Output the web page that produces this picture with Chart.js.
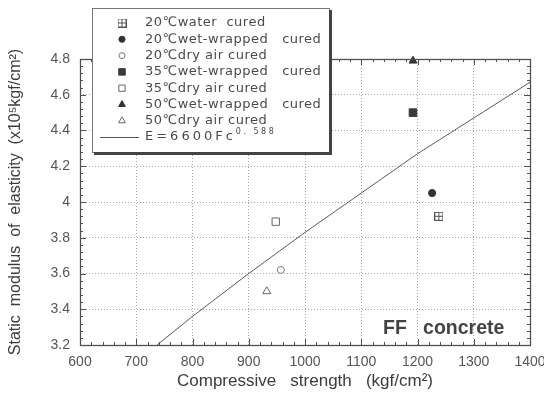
<!DOCTYPE html>
<html><head><meta charset="utf-8">
<style>html,body{margin:0;padding:0;background:#fff;}#wrap{width:544px;height:401px;}</style>
<script src="https://cdn.jsdelivr.net/npm/chart.js@4.4.1/dist/chart.umd.min.js"></script>
</head><body><div id="wrap"><canvas id="c" width="544" height="401"></canvas></div>
<script>
// ---- data ----
const xTicks = [600, 700, 800, 900, 1000, 1100, 1200, 1300, 1400];
const yTicks = [3.2, 3.4, 3.6, 3.8, 4.0, 4.2, 4.4, 4.6, 4.8];
const yTickLabels = ['3.2', '3.4', '3.6', '3.8', '4', '4.2', '4.4', '4.6', '4.8'];
const seriesLabels = ['20℃water  cured', '20℃wet-wrapped   cured', '20℃dry air cured',
  '35℃wet-wrapped   cured', '35℃dry air cured', '50℃wet-wrapped   cured', '50℃dry air cured'];
const fitLabel = 'E=6600Fc';
const fitExponent = '0. 588';
const water20X = [1238], water20Y = [3.92];
const wet20X = [1226], wet20Y = [4.05];
const dry20X = [957], dry20Y = [3.62];
const wet35X = [1192], wet35Y = [4.50];
const dry35X = [948], dry35Y = [3.89];
const wet50X = [1192], wet50Y = [4.79];
const dry50X = [932], dry50Y = [3.50];
const fitX = [737, 800, 900, 1000, 1100, 1200, 1300, 1400];
const fitY = [3.20, 3.36, 3.60, 3.83, 4.05, 4.27, 4.47, 4.67];
const xTitle = 'Compressive   strength   (kgf/cm²)';
const yTitle = 'Static  modulus  of  elasticity  (x10⁵kgf/cm²)';
const noteText = 'FF   concrete';

const zip = (xs, ys) => xs.map((x, i) => ({x, y: ys[i]}));

function makePlusSquare() {
  const c = document.createElement('canvas'); c.width = 9; c.height = 9;
  const g = c.getContext('2d'); g.strokeStyle = '#555'; g.lineWidth = 1;
  g.strokeRect(0.5, 0.5, 8, 8);
  g.beginPath(); g.moveTo(4.5, 0.5); g.lineTo(4.5, 8.5); g.moveTo(0.5, 4.5); g.lineTo(8.5, 4.5); g.stroke();
  return c;
}
const plusSq = makePlusSquare();

const pointStyles = [
  {pointStyle: plusSq, radius: 4.5, backgroundColor: '#fff', borderColor: '#555', borderWidth: 1},
  {pointStyle: 'circle', radius: 3.6, backgroundColor: '#333', borderColor: '#333', borderWidth: 1},
  {pointStyle: 'circle', radius: 3.5, backgroundColor: '#fff', borderColor: '#777', borderWidth: 1},
  {pointStyle: 'rect', radius: 5.4, backgroundColor: '#3a3a3a', borderColor: '#3a3a3a', borderWidth: 1},
  {pointStyle: 'rect', radius: 5.2, backgroundColor: '#fff', borderColor: '#666', borderWidth: 1},
  {pointStyle: 'triangle', radius: 4.6, backgroundColor: '#333', borderColor: '#333', borderWidth: 1},
  {pointStyle: 'triangle', radius: 4.6, backgroundColor: '#fff', borderColor: '#666', borderWidth: 1}
];
const seriesData = [zip(water20X, water20Y), zip(wet20X, wet20Y), zip(dry20X, dry20Y),
  zip(wet35X, wet35Y), zip(dry35X, dry35Y), zip(wet50X, wet50Y), zip(dry50X, dry50Y)];

const datasets = seriesData.map((d, i) => ({
  label: seriesLabels[i], data: d, showLine: false, clip: false,
  pointStyle: pointStyles[i].pointStyle, pointRadius: pointStyles[i].radius,
  pointBackgroundColor: pointStyles[i].backgroundColor, pointBorderColor: pointStyles[i].borderColor,
  pointBorderWidth: pointStyles[i].borderWidth
}));
datasets.push({label: fitLabel, data: zip(fitX, fitY), showLine: true, pointRadius: 0,
  borderColor: '#5a5a5a', borderWidth: 1, tension: 0, fill: false});

const framePlugin = {
  id: 'frame',
  afterDraw(chart) {
    const ctx = chart.ctx, a = chart.chartArea, xs = chart.scales.x, ys = chart.scales.y;
    ctx.save();
    ctx.strokeStyle = '#505050'; ctx.lineWidth = 1;
    ctx.beginPath();
    for (let i = 0; i <= 40; i++) {
      const v = xTicks[0] + i * 20;
      const px = Math.round(xs.getPixelForValue(v)) + 0.5;
      const L = (i % 5 === 0) ? 6 : 3;
      ctx.moveTo(px, a.bottom); ctx.lineTo(px, a.bottom - L);
      ctx.moveTo(px, a.top); ctx.lineTo(px, a.top + L);
    }
    for (let i = 0; i <= 40; i++) {
      const v = yTicks[0] + i * 0.04;
      const py = Math.round(ys.getPixelForValue(v)) + 0.5;
      const L = (i % 5 === 0) ? 6 : 3;
      ctx.moveTo(a.left, py); ctx.lineTo(a.left + L, py);
      ctx.moveTo(a.right, py); ctx.lineTo(a.right - L, py);
    }
    ctx.stroke();
    ctx.lineWidth = 1.3;
    ctx.strokeRect(Math.round(a.left) + 0.5, Math.round(a.top) + 0.5, Math.round(a.right - a.left), Math.round(a.bottom - a.top));
    // note text
    ctx.fillStyle = '#444';
    ctx.font = 'bold 19.5px "Liberation Sans", Arial, sans-serif';
    ctx.textAlign = 'left'; ctx.textBaseline = 'middle';
    ctx.fillText(noteText, 383, 329);
    // legend box
    const bx = 92, by = 8, bw = 237, bh = 144;
    ctx.fillStyle = '#fff';
    ctx.fillRect(bx, by, bw + 3, bh + 3);
    ctx.strokeStyle = '#777'; ctx.lineWidth = 1;
    ctx.strokeRect(bx + 0.5, by + 0.5, bw, bh);
    ctx.fillStyle = '#444';
    ctx.fillRect(bx + bw, by + 2, 3, bh + 1);
    ctx.fillRect(bx + 2, by + bh, bw + 1, 3);
    // legend entries
    const rowY0 = 23, rowDy = 16.3;
    ctx.font = '13px "DejaVu Sans", sans-serif';
    ctx.letterSpacing = '0.5px';
    for (let i = 0; i < seriesLabels.length; i++) {
      const y = rowY0 + i * rowDy;
      const ps = pointStyles[i];
      ctx.save();
      ctx.fillStyle = ps.backgroundColor; ctx.strokeStyle = ps.borderColor; ctx.lineWidth = ps.borderWidth;
      Chart.helpers.drawPoint(ctx, {pointStyle: ps.pointStyle, radius: ps.radius * 0.85, borderWidth: ps.borderWidth, rotation: 0}, 122, y);
      ctx.restore();
      ctx.fillStyle = '#4a4a4a';
      ctx.fillText(seriesLabels[i], 145, y);
    }
    const fy = rowY0 + 7 * rowDy;
    ctx.strokeStyle = '#555'; ctx.lineWidth = 1;
    ctx.beginPath(); ctx.moveTo(100, Math.round(fy) + 0.5); ctx.lineTo(139, Math.round(fy) + 0.5); ctx.stroke();
    ctx.fillStyle = '#4a4a4a';
    ctx.letterSpacing = '3px';
    ctx.fillText(fitLabel, 145, fy);
    const w = ctx.measureText(fitLabel).width;
    ctx.font = '8px "DejaVu Sans", sans-serif';
    ctx.letterSpacing = '2.5px';
    ctx.fillText(fitExponent, 145 + w, fy - 5);
    ctx.restore();
  }
};

new Chart(document.getElementById('c'), {
  type: 'scatter',
  data: {datasets},
  options: {
    responsive: false, animation: false, devicePixelRatio: 1,
    events: [],
    layout: {padding: {top: 59, right: 14, left: 0, bottom: 0}},
    plugins: {legend: {display: false}, tooltip: {enabled: false}},
    scales: {
      x: {
        type: 'linear', min: xTicks[0], max: xTicks[xTicks.length - 1],
        afterBuildTicks: s => { s.ticks = xTicks.map(v => ({value: v})); },
        afterFit: s => { s.height = 56; s.paddingLeft = 0; s.paddingRight = 0; },
        ticks: {color: '#555', padding: 9, font: {family: '"Liberation Sans", Arial, sans-serif', size: 14}, maxRotation: 0, autoSkip: false,
          callback: v => String(v)},
        grid: {drawTicks: false, lineWidth: 1,
          color: c => (c.tick && (c.tick.value === xTicks[0] || c.tick.value === xTicks[xTicks.length - 1])) ? 'rgba(0,0,0,0)' : '#a8a8a8'},
        border: {display: false, dash: [1, 2]},
        title: {display: true, text: xTitle, color: '#3c3c3c', padding: {top: 0, bottom: 9},
          font: {family: '"Liberation Sans", Arial, sans-serif', size: 17}}
      },
      y: {
        type: 'linear', min: yTicks[0], max: yTicks[yTicks.length - 1],
        afterBuildTicks: s => { s.ticks = yTicks.map(v => ({value: v})); },
        afterFit: s => { s.width = 80; s.paddingTop = 0; s.paddingBottom = 0; },
        ticks: {color: '#555', padding: 10, font: {family: '"Liberation Sans", Arial, sans-serif', size: 14}, autoSkip: false,
          callback: (v, i) => yTickLabels[i]},
        grid: {drawTicks: false, lineWidth: 1,
          color: c => (c.tick && (Math.abs(c.tick.value - yTicks[0]) < 1e-6 || Math.abs(c.tick.value - yTicks[yTicks.length - 1]) < 1e-6)) ? 'rgba(0,0,0,0)' : '#a8a8a8'},
        border: {display: false, dash: [1, 2]},
        title: {display: true, text: yTitle, color: '#3c3c3c', padding: {top: 6, bottom: 0},
          font: {family: '"Liberation Sans", Arial, sans-serif', size: 16}}
      }
    }
  },
  plugins: [framePlugin]
});
</script></body></html>
